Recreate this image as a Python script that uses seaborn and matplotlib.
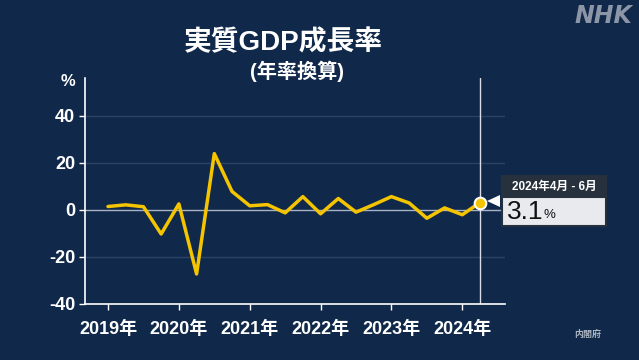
import numpy as np
import pandas as pd
import matplotlib
matplotlib.use("Agg")
import matplotlib.pyplot as plt
import seaborn as sns

# Quarterly real GDP growth (annualised), 2019 Q1 .. 2024 Q2
quarters = [f"{y}Q{q}" for y in range(2019, 2025) for q in range(1, 5)][:22]
growth = [1.4, 2.1, 1.3, -10.3, 2.5, -27.3, 23.9, 7.8, 1.7, 2.2, -1.3,
          5.6, -1.7, 4.8, -1.0, 2.2, 5.6, 2.9, -3.6, 0.8, -2.1, 3.1]
year_labels = ["2019年", "2020年", "2021年", "2022年", "2023年", "2024年"]
year_ticks = [0, 4, 8, 12, 16, 20]
y_ticks = [-40, -20, 0, 20, 40]
last_period = "2024年4月 - 6月"

df = pd.DataFrame({"idx": np.arange(len(growth)), "quarter": quarters, "growth": growth})

bg = "#10284a"
sns.set_theme(style="dark")
plt.rcParams["font.family"] = ["Liberation Sans", "Noto Sans CJK JP", "DejaVu Sans"]

fig = plt.figure(figsize=(6.39, 3.6), dpi=100, facecolor=bg)
ax = fig.add_axes([0.133, 0.156, 0.657, 0.627])
ax.set_facecolor(bg)

# grid lines
for v in [40, 20, -20]:
    ax.axhline(v, color="#2c4264", lw=1, zorder=1)
ax.axhline(0, color="#a8b2c2", lw=1, zorder=1)

sns.lineplot(data=df, x="idx", y="growth", ax=ax, color="#f5c400", lw=2.5, zorder=3)

last_x = df["idx"].iloc[-1]
last_y = df["growth"].iloc[-1]
ax.axvline(last_x, color="#d8dde5", lw=1, zorder=2)
ax.scatter([last_x], [last_y], s=70, color="#f5c400", edgecolor="white", linewidth=1.5, zorder=5)

ax.set_xlim(-1.3, 22.4)
ax.set_ylim(-40, 56)
ax.set_xticks(year_ticks)
ax.set_xticklabels(year_labels)
ax.set_yticks(y_ticks)
ax.set_yticklabels([str(v) for v in y_ticks])
ax.tick_params(axis="both", colors="white", labelcolor="white", length=4, width=1, labelsize=13, pad=3)
ax.tick_params(axis="x", pad=8)
ax.tick_params(axis="both", which="both", bottom=True, left=True)
for lab in ax.get_xticklabels() + ax.get_yticklabels():
    lab.set_fontweight("bold")
ax.set_xlabel("")
ax.set_ylabel("")
for side in ["top", "right"]:
    ax.spines[side].set_visible(False)
for side in ["left", "bottom"]:
    ax.spines[side].set_color("white")
    ax.spines[side].set_linewidth(1.2)
ax.grid(False)

# unit label
fig.text(0.118, 0.775, "%", color="white", fontsize=12, fontweight="bold", ha="right", va="center")

# titles
fig.text(0.443, 0.882, "実質GDP成長率", color="white", fontsize=20, fontweight="bold", ha="center", va="center")
fig.text(0.465, 0.803, "(年率換算)", color="white", fontsize=14.5, fontweight="bold", ha="center", va="center")

# logo and source
fig.text(0.99, 0.955, "NHK", color="#8c96a6", fontsize=17, fontweight="heavy", style="italic",
         ha="right", va="center", family=["DejaVu Sans"])
fig.text(0.92, 0.072, "内閣府", color="#b0b8c4", fontsize=6.5, fontweight="bold", ha="center", va="center")

# annotation box
W, H = 639, 360
def fx(px):
    return px / W
def fy(py):
    return 1 - py / H

fig.patches.append(plt.Rectangle((fx(501), fy(197)), fx(607) - fx(501), fy(175) - fy(197),
                                 transform=fig.transFigure, facecolor="#26313d", edgecolor="none", zorder=4))
fig.patches.append(plt.Rectangle((fx(502), fy(226)), fx(606) - fx(502), fy(197) - fy(226),
                                 transform=fig.transFigure, facecolor="#e8eaee", edgecolor="#26313d",
                                 lw=1.5, zorder=4))
fig.patches.append(plt.Polygon([(fx(487), fy(201)), (fx(500), fy(195)), (fx(500), fy(207))],
                               transform=fig.transFigure, facecolor="white", edgecolor="none", zorder=4))
fig.text(fx(554), fy(186.5), last_period, color="white", fontsize=8.5, fontweight="bold",
         ha="center", va="center", zorder=6)
fig.text(fx(507), fy(212), f"{last_y:.1f}", color="#111111", fontsize=19,
         ha="left", va="center", zorder=6)
fig.text(fx(543), fy(215), "%", color="#111111", fontsize=9.5, ha="left", va="center", zorder=6)

fig.savefig("out.png", dpi=100, facecolor=bg)
